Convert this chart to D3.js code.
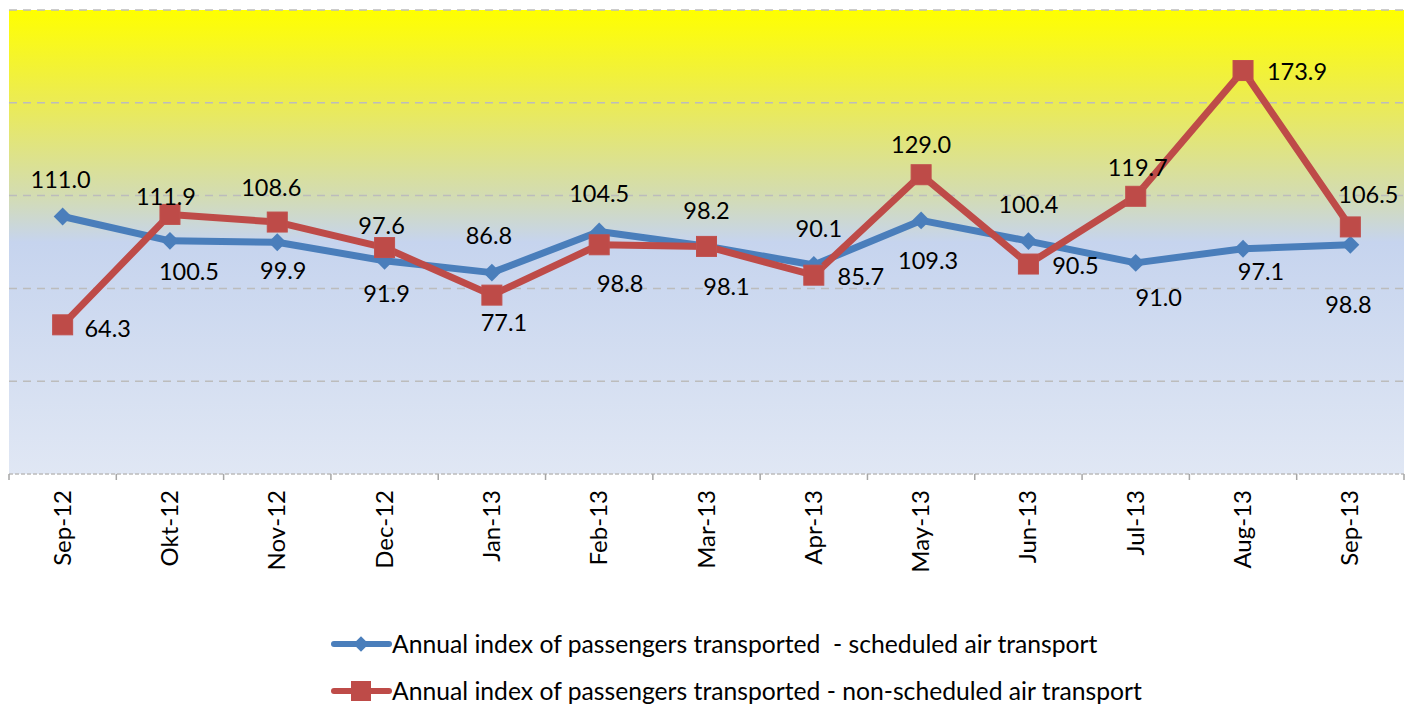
<!DOCTYPE html>
<html>
<head>
<meta charset="utf-8">
<script src="https://cdn.jsdelivr.net/npm/d3@7"></script>
<style>
  body { margin: 0; background: #fff; }
  text { font-family: Lato, "Open Sans", sans-serif; fill: #000; white-space: pre; }
</style>
</head>
<body>
<script>
const width = 1413;
const height = 704;

// data
const months = ["Sep-12", "Okt-12", "Nov-12", "Dec-12", "Jan-13", "Feb-13", "Mar-13",
  "Apr-13", "May-13", "Jun-13", "Jul-13", "Aug-13", "Sep-13"];
const scheduled = [111.0, 100.5, 99.9, 91.9, 86.8, 104.5, 98.2, 90.1, 109.3, 100.4, 91.0, 97.1, 98.8];
const nonScheduled = [64.3, 111.9, 108.6, 97.6, 77.1, 98.8, 98.1, 85.7, 129.0, 90.5, 119.7, 173.9, 106.5];
const yTicks = [0, 40, 80, 120, 160, 200];
const seriesNames = ["Annual index of passengers transported  - scheduled air transport",
  "Annual index of passengers transported - non-scheduled air transport"];

// label placement (px offset from the point)
const blueLabelOff = [[-2,-37],[19,31],[6,29],[2,33],[-3,-37],[0,-38],[0,-35],[5,-36],[7,40],[0,-36],[23,35],[18,23],[-2,60]];
const redLabelOff = [[45,4],[-4,-18],[-6,-34],[-3,-22],[12,28],[21,39],[20,40],[47,2],[0,-30],[47,2],[2,-29],[54,1],[18,-32]];

const margin = {left: 9, right: 9, top: 10};
const plotBottom = 474;

const svg = d3.select("body").append("svg")
  .attr("width", width)
  .attr("height", height);

const x = d3.scaleBand()
  .domain(months)
  .range([margin.left, width - margin.right]);

const y = d3.scaleLinear()
  .domain([0, 200])
  .range([plotBottom, margin.top]);

// background gradient
const grad = svg.append("defs").append("linearGradient")
  .attr("id", "bg")
  .attr("x1", 0).attr("y1", 0).attr("x2", 0).attr("y2", 1);
[[0, "#ffff00"], [0.2, "#ebeb55"], [0.4, "#d3dcb2"], [0.5, "#c6d4ee"], [1, "#e0e7f4"]]
  .forEach(s => grad.append("stop").attr("offset", s[0]).attr("stop-color", s[1]));

svg.append("rect")
  .attr("x", margin.left)
  .attr("y", margin.top)
  .attr("width", width - margin.left - margin.right)
  .attr("height", plotBottom - margin.top)
  .attr("fill", "url(#bg)");

// gridlines
svg.append("g").selectAll("line")
  .data(yTicks)
  .join("line")
  .attr("x1", margin.left)
  .attr("x2", width - margin.right)
  .attr("y1", d => y(d))
  .attr("y2", d => y(d))
  .attr("stroke", "#bcbcbc")
  .attr("stroke-width", 1.5)
  .attr("stroke-dasharray", d => d === 0 ? "4,2" : "8,6");

// x axis
const xAxis = svg.append("g")
  .attr("transform", "translate(0," + plotBottom + ")");
const bounds = months.map(m => x(m)).concat([width - margin.right]);
xAxis.selectAll("line.tick")
  .data(bounds)
  .join("line")
  .attr("class", "tick")
  .attr("x1", d => d).attr("x2", d => d)
  .attr("y1", 0).attr("y2", 6)
  .attr("stroke", "#a6a6a6")
  .attr("stroke-width", 1.5);

xAxis.selectAll("text")
  .data(months)
  .join("text")
  .attr("transform", d => "translate(" + (x(d) + x.bandwidth() / 2 + 8) + ",16) rotate(-90)")
  .attr("text-anchor", "end")
  .style("font-size", "24px")
  .text(d => d);

const cx = (d, i) => x(months[i]) + x.bandwidth() / 2;

const line = d3.line()
  .x((d, i) => cx(d, i))
  .y(d => y(d));

// blue series
svg.append("path")
  .datum(scheduled)
  .attr("d", line)
  .attr("fill", "none")
  .attr("stroke", "#4a7ebb")
  .attr("stroke-width", 7)
  .attr("stroke-linejoin", "round");

// red series
svg.append("path")
  .datum(nonScheduled)
  .attr("d", line)
  .attr("fill", "none")
  .attr("stroke", "#be4b48")
  .attr("stroke-width", 7)
  .attr("stroke-linejoin", "round");

svg.append("g").selectAll("path")
  .data(scheduled)
  .join("path")
  .attr("transform", (d, i) => "translate(" + cx(d, i) + "," + y(d) + ") rotate(45)")
  .attr("d", d3.symbol().type(d3.symbolSquare).size(160))
  .attr("fill", "#4a7ebb");

svg.append("g").selectAll("rect")
  .data(nonScheduled)
  .join("rect")
  .attr("x", (d, i) => cx(d, i) - 10)
  .attr("y", d => y(d) - 10)
  .attr("width", 20)
  .attr("height", 20)
  .attr("fill", "#be4b48")
  .attr("stroke", "#c0504d")
  .attr("stroke-width", 1);

// data labels
svg.append("g").selectAll("text")
  .data(scheduled)
  .join("text")
  .attr("x", (d, i) => cx(d, i) + blueLabelOff[i][0])
  .attr("y", (d, i) => y(d) + blueLabelOff[i][1])
  .attr("dy", "0.35em")
  .attr("text-anchor", "middle")
  .style("font-size", "23.5px")
  .text(d => d.toFixed(1));

svg.append("g").selectAll("text")
  .data(nonScheduled)
  .join("text")
  .attr("x", (d, i) => cx(d, i) + redLabelOff[i][0])
  .attr("y", (d, i) => y(d) + redLabelOff[i][1])
  .attr("dy", "0.35em")
  .attr("text-anchor", "middle")
  .style("font-size", "23.5px")
  .text(d => d.toFixed(1));

// legend
const legend = svg.append("g");
const legendRows = [
  {name: seriesNames[0], color: "#4a7ebb", shape: "diamond", y: 644},
  {name: seriesNames[1], color: "#be4b48", shape: "square", y: 691}
];
legendRows.forEach(r => {
  legend.append("line")
    .attr("x1", 334).attr("x2", 389)
    .attr("y1", r.y).attr("y2", r.y)
    .attr("stroke", r.color)
    .attr("stroke-width", 6)
    .attr("stroke-linecap", "round");
  if (r.shape === "diamond") {
    legend.append("path")
      .attr("transform", "translate(361," + r.y + ") rotate(45)")
      .attr("d", d3.symbol().type(d3.symbolSquare).size(120))
      .attr("fill", r.color);
  } else {
    legend.append("rect")
      .attr("x", 351).attr("y", r.y - 10)
      .attr("width", 20).attr("height", 20)
      .attr("fill", r.color);
  }
  legend.append("text")
    .attr("x", 392)
    .attr("y", r.y)
    .attr("dy", "0.35em")
    .style("font-size", "24.7px")
    .text(r.name);
});
</script>
</body>
</html>
